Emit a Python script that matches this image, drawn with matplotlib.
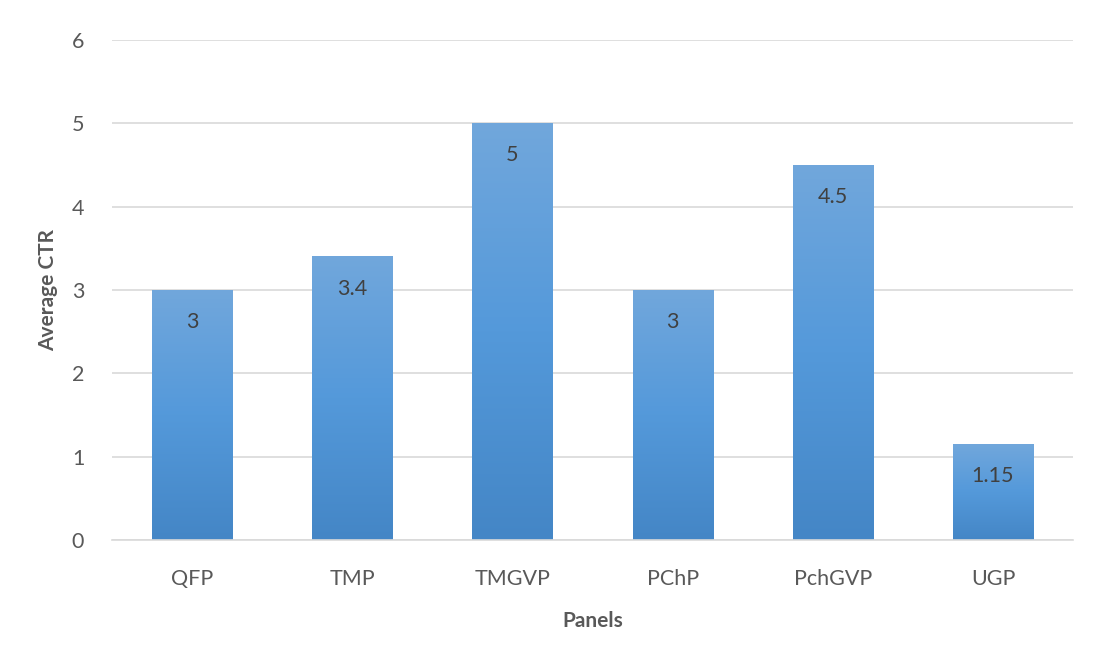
import matplotlib
matplotlib.use("Agg")
import matplotlib.pyplot as plt
import numpy as np
from matplotlib.colors import LinearSegmentedColormap

panels = ["QFP", "TMP", "TMGVP", "PChP", "PchGVP", "UGP"]
avg_ctr = [3, 3.4, 5, 3, 4.5, 1.15]
value_labels = ["3", "3.4", "5", "3", "4.5", "1.15"]
y_ticks = [0, 1, 2, 3, 4, 5, 6]

plt.rcParams["font.family"] = ["Lato", "DejaVu Sans"]

fig = plt.figure(figsize=(11.01, 6.68), dpi=100)
ax = fig.add_axes([0.1017, 0.1916, 0.8729, 0.7484])

x = np.arange(len(panels))
bars = ax.bar(x, avg_ctr, width=0.5, color="none", edgecolor="none", zorder=2)

# vertical gradient fill for each bar (light top, darker bottom)
grad_cmap = LinearSegmentedColormap.from_list(
    "bar_grad", ["#4486c6", "#5499da", "#71a7dc"])
grad = np.linspace(0, 1, 256).reshape(-1, 1)
for b in bars:
    x0, w, h = b.get_x(), b.get_width(), b.get_height()
    ax.imshow(grad, cmap=grad_cmap, origin="lower", aspect="auto",
              extent=(x0, x0 + w, 0, h), zorder=2, interpolation="bicubic")

for b, lab in zip(bars, value_labels):
    ax.annotate(lab, (b.get_x() + b.get_width() / 2, b.get_height()),
                xytext=(0, -23), textcoords="offset points",
                ha="center", va="center", fontsize=15.5, color="#404040", zorder=3)

ax.set_xlim(-0.5, len(panels) - 0.5)
ax.set_ylim(0, 6)
ax.set_yticks(y_ticks)
ax.set_xticks(x)
ax.set_xticklabels(panels)
ax.grid(axis="y", color="#d9d9d9", linewidth=1.2, zorder=0)
ax.set_axisbelow(True)
for s in ["top", "right", "left"]:
    ax.spines[s].set_visible(False)
ax.spines["bottom"].set_color("#d9d9d9")
ax.spines["bottom"].set_linewidth(1.2)
ax.tick_params(axis="both", length=0, labelsize=15.5, labelcolor="#595959")
ax.tick_params(axis="y", pad=20)
ax.tick_params(axis="x", pad=21)

ax.set_ylabel("Average CTR", fontsize=15, fontweight="bold", color="#595959", labelpad=10)
ax.set_xlabel("Panels", fontsize=15, fontweight="bold", color="#595959", labelpad=16)

fig.savefig("out.png", dpi=100)
